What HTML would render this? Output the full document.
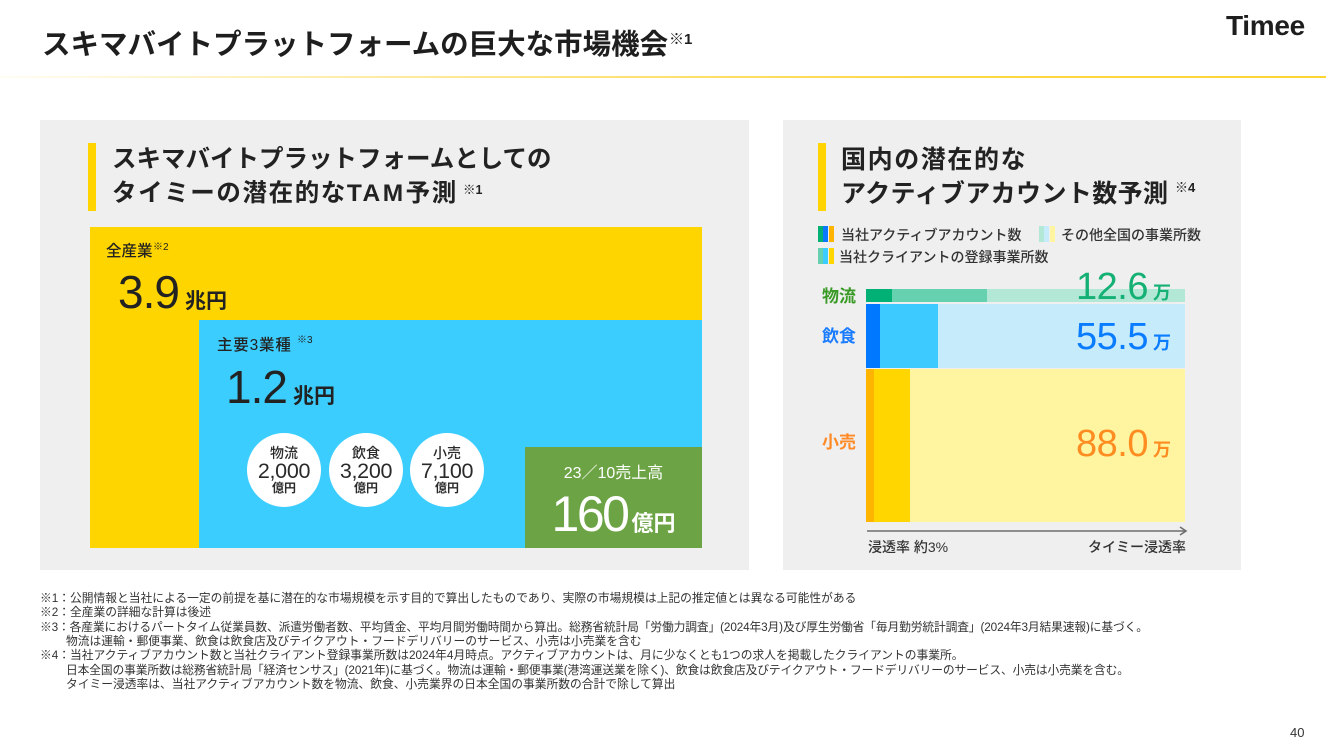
<!DOCTYPE html>
<html lang="ja">
<head>
<meta charset="utf-8">
<style>
  html, body { margin:0; padding:0; }
  body { width:1326px; height:747px; overflow:hidden; background:#fff; position:relative;
         font-family:"Liberation Sans","Noto Sans CJK JP",sans-serif; color:#222; }
  .a { position:absolute; white-space:nowrap; }
  .r { position:absolute; }
  .circ { position:absolute; width:74px; height:74px; border-radius:50%; background:#fff; top:433px; }
  .circ div { position:absolute; left:0; width:74px; text-align:center; white-space:nowrap; color:#2a2a2a; }
  .c1 { top:12px; height:16px; line-height:16px; font-size:14px; font-weight:500; }
  .c2 { top:27px; height:22px; line-height:22px; font-size:21.5px; letter-spacing:-0.3px; }
  .c3 { top:48px; height:14px; line-height:14px; font-size:12px; font-weight:700; }
  .leg { position:absolute; height:16px; width:16px; }
  .leg span { position:absolute; top:0; height:100%; width:5px; }
  .fn { position:absolute; left:40px; top:592px; font-size:11.75px; line-height:14.35px; color:#333; white-space:nowrap; }
  .fn .in { padding-left:26px; }
  .fn .tight { letter-spacing:-0.13px; }
</style>
</head>
<body>

<!-- header -->
<div class="a" style="left:42px;top:25px;font-size:28.5px;line-height:40px;font-weight:700;color:#1e1e1e;">スキマバイトプラットフォームの巨大な市場機会</div>
<div class="a" style="left:669px;top:31px;font-size:15px;line-height:18px;font-weight:700;color:#1e1e1e;">※1</div>
<div class="a" style="left:1226px;top:11px;font-size:28px;line-height:30px;font-weight:700;letter-spacing:-0.3px;color:#1e1e1e;">Timee</div>
<div class="r" style="left:0;top:76px;width:1326px;height:2px;background:linear-gradient(to right,#fffdf4 0%,#fdf0b8 20%,#fde27a 45%,#fcd845 70%,#fcd535 100%);"></div>

<!-- left panel -->
<div class="r" style="left:40px;top:120px;width:709px;height:450px;background:#efefef;"></div>
<div class="r" style="left:88px;top:143px;width:8px;height:68px;background:#ffd400;"></div>
<div class="a" style="left:112px;top:143px;font-size:24.5px;line-height:34px;font-weight:700;color:#222;">スキマバイトプラットフォームとしての<br><span style="letter-spacing:1.6px;">タイミーの潜在的な<span style="letter-spacing:2.5px;">TAM</span>予測</span></div>
<div class="a" style="left:463px;top:183px;font-size:12.5px;line-height:14px;font-weight:700;color:#222;">※1</div>

<div class="r" style="left:90px;top:227px;width:612px;height:321px;background:#ffd500;"></div>
<div class="r" style="left:199px;top:320px;width:503px;height:228px;background:#3ccdff;"></div>
<div class="r" style="left:525px;top:447px;width:177px;height:101px;background:#6ca344;"></div>

<div class="a" style="left:106px;top:242px;font-size:15.5px;line-height:20px;font-weight:500;color:#222;">全産業</div>
<div class="a" style="left:153px;top:242px;font-size:10px;line-height:12px;color:#222;">※2</div>
<div class="a" style="left:118px;top:267px;line-height:50px;color:#222;"><span style="font-size:46px;letter-spacing:-1px;">3.9</span><span style="font-size:21px;font-weight:700;margin-left:6px;">兆円</span></div>

<div class="a" style="left:217px;top:336px;font-size:15.5px;line-height:20px;font-weight:500;color:#222;letter-spacing:0.8px;">主要3業種</div>
<div class="a" style="left:297px;top:335px;font-size:10px;line-height:12px;color:#222;">※3</div>
<div class="a" style="left:226px;top:362px;line-height:50px;color:#222;"><span style="font-size:46px;letter-spacing:-1px;">1.2</span><span style="font-size:21px;font-weight:700;margin-left:6px;">兆円</span></div>

<div class="circ" style="left:247px;"><div class="c1">物流</div><div class="c2">2,000</div><div class="c3">億円</div></div>
<div class="circ" style="left:329px;"><div class="c1">飲食</div><div class="c2">3,200</div><div class="c3">億円</div></div>
<div class="circ" style="left:410px;"><div class="c1">小売</div><div class="c2">7,100</div><div class="c3">億円</div></div>

<div class="a" style="left:525px;width:177px;top:464px;text-align:center;font-size:16px;line-height:20px;color:#fff;">23／10売上高</div>
<div class="a" style="left:525px;width:177px;top:487px;text-align:center;line-height:54px;color:#fff;"><span style="font-size:50px;letter-spacing:-2.5px;">160</span><span style="font-size:22px;font-weight:700;margin-left:4px;">億円</span></div>

<!-- right panel -->
<div class="r" style="left:783px;top:120px;width:458px;height:450px;background:#efefef;"></div>
<div class="r" style="left:818px;top:143px;width:8px;height:68px;background:#ffd400;"></div>
<div class="a" style="left:841px;top:143px;font-size:25px;line-height:34px;font-weight:700;color:#222;"><span style="letter-spacing:1.6px;">国内の潜在的な</span><br><span style="letter-spacing:0.4px;">アクティブアカウント数予測</span></div>
<div class="a" style="left:1175px;top:181px;font-size:13px;line-height:14px;font-weight:700;color:#222;">※4</div>

<div class="leg" style="left:818px;top:226px;"><span style="left:0;background:#00b074;"></span><span style="left:5.3px;background:#0a78ff;"></span><span style="left:10.6px;width:5.4px;background:#ffb400;"></span></div>
<div class="a" style="left:841px;top:225px;font-size:14px;line-height:20px;font-weight:500;color:#333;">当社アクティブアカウント数</div>
<div class="leg" style="left:1039px;top:226px;"><span style="left:0;background:#b3e8d6;"></span><span style="left:5.3px;background:#c6ebfb;"></span><span style="left:10.6px;width:5.4px;background:#fff4a0;"></span></div>
<div class="a" style="left:1061px;top:225px;font-size:14px;line-height:20px;font-weight:500;color:#333;">その他全国の事業所数</div>
<div class="leg" style="left:818px;top:248px;"><span style="left:0;background:#66d1ae;"></span><span style="left:5.3px;background:#3dccff;"></span><span style="left:10.6px;width:5.4px;background:#ffd600;"></span></div>
<div class="a" style="left:839px;top:247px;font-size:14px;line-height:20px;font-weight:500;color:#333;">当社クライアントの登録事業所数</div>

<!-- bars -->
<div class="r" style="left:866px;top:289px;width:319px;height:13px;background:#b3e8d6;"></div>
<div class="r" style="left:866px;top:289px;width:121px;height:13px;background:#66d1ae;"></div>
<div class="r" style="left:866px;top:289px;width:26px;height:13px;background:#00b074;"></div>

<div class="r" style="left:866px;top:304px;width:319px;height:64px;background:#c6ebfb;"></div>
<div class="r" style="left:866px;top:304px;width:72px;height:64px;background:#3dcbff;"></div>
<div class="r" style="left:866px;top:304px;width:14px;height:64px;background:#0078ff;"></div>

<div class="r" style="left:866px;top:369px;width:319px;height:153px;background:#fff5a0;"></div>
<div class="r" style="left:866px;top:369px;width:44px;height:153px;background:#ffd600;"></div>
<div class="r" style="left:866px;top:369px;width:8px;height:153px;background:#ffb400;"></div>

<div class="a" style="left:822px;top:287px;font-size:17px;line-height:20px;font-weight:700;color:#3a9a26;">物流</div>
<div class="a" style="left:822px;top:327px;font-size:17px;line-height:20px;font-weight:700;color:#1a7cff;">飲食</div>
<div class="a" style="left:822px;top:433px;font-size:17px;line-height:20px;font-weight:700;color:#ff8a26;">小売</div>

<div class="a" style="right:155px;top:267px;line-height:40px;color:#14b074;text-align:right;"><span style="font-size:38px;letter-spacing:-0.5px;">12.6</span><span style="font-size:18px;font-weight:700;margin-left:5px;">万</span></div>
<div class="a" style="right:155px;top:317px;line-height:40px;color:#0a7cff;text-align:right;"><span style="font-size:38px;letter-spacing:-0.5px;">55.5</span><span style="font-size:18px;font-weight:700;margin-left:5px;">万</span></div>
<div class="a" style="right:155px;top:424px;line-height:40px;color:#ff8c21;text-align:right;"><span style="font-size:38px;letter-spacing:-0.5px;">88.0</span><span style="font-size:18px;font-weight:700;margin-left:5px;">万</span></div>

<!-- arrow -->
<svg class="r" style="left:860px;top:522px;" width="335" height="18" viewBox="0 0 335 18">
  <line x1="7" y1="9" x2="325" y2="9" stroke="#6e6e6e" stroke-width="1.6"/>
  <polyline points="320,5 326,9 320,13" fill="none" stroke="#6e6e6e" stroke-width="1.6"/>
</svg>
<div class="a" style="left:868px;top:537px;font-size:14px;line-height:20px;font-weight:500;color:#333;">浸透率 約3%</div>
<div class="a" style="right:140px;top:537px;font-size:14px;line-height:20px;font-weight:500;color:#333;text-align:right;">タイミー浸透率</div>

<!-- footnotes -->
<div class="fn">
※1：公開情報と当社による一定の前提を基に潜在的な市場規模を示す目的で算出したものであり、実際の市場規模は上記の推定値とは異なる可能性がある<br>
※2：全産業の詳細な計算は後述<br>
<span class="tight">※3：各産業におけるパートタイム従業員数、派遣労働者数、平均賃金、平均月間労働時間から算出。総務省統計局「労働力調査」(2024年3月)及び厚生労働省「毎月勤労統計調査」(2024年3月結果速報)に基づく。</span><br>
<span class="in">物流は運輸・郵便事業、飲食は飲食店及びテイクアウト・フードデリバリーのサービス、小売は小売業を含む</span><br>
※4：当社アクティブアカウント数と当社クライアント登録事業所数は2024年4月時点。アクティブアカウントは、月に少なくとも1つの求人を掲載したクライアントの事業所。<br>
<span class="in tight">日本全国の事業所数は総務省統計局「経済センサス」(2021年)に基づく。物流は運輸・郵便事業(港湾運送業を除く)、飲食は飲食店及びテイクアウト・フードデリバリーのサービス、小売は小売業を含む。</span><br>
<span class="in">タイミー浸透率は、当社アクティブアカウント数を物流、飲食、小売業界の日本全国の事業所数の合計で除して算出</span>
</div>

<div class="a" style="left:1290px;top:725px;font-size:13px;line-height:16px;color:#333;">40</div>

</body>
</html>
